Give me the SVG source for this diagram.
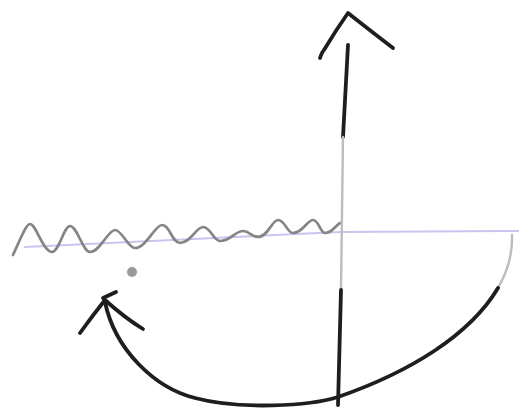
<svg xmlns="http://www.w3.org/2000/svg" width="519" height="413" viewBox="0 0 519 413">
<style>
.ink{fill:none;stroke:#1e1e1e;stroke-width:3.8;stroke-linecap:round;stroke-linejoin:round}
.pencil{fill:none;stroke:#858585;stroke-width:2.7;stroke-linecap:round;stroke-linejoin:round}
.faint{fill:none;stroke:#bdbdbd;stroke-width:2.4;stroke-linecap:round}
.axis{fill:none;stroke:#c6c6f0;stroke-width:2;stroke-linecap:round}
</style>
<rect width="519" height="413" fill="#ffffff"/>
<g id="baseline">
<path class="axis" d="M25,247 L340,232 L519,231"/>
</g>
<g id="wave">
<path class="pencil" d="M13,255 C20,240 26,224 30,224 C36,224 43,252 52,252 C59,252 64,226 70,226 C77,226 83,252 90,252 C100,252 108,230 115,230 C122,230 128,248 135,248 C146,248 155,225 162,225 C170,225 172,243 180,243 C191,243 196,227 203,227 C211,227 213,241 220,241 C231,241 235,231 243,231 C250,231 251,237 258,237 C268,237 272,220 278,220 C285,220 287,233 293,233 C303,233 307,220 313,220 C319,220 320,233 325,233 C332,233 335,226 340,223"/>
</g>
<g id="dot">
<circle cx="132" cy="272" r="5" fill="#9a9a9a"/>
</g>
<g id="connectors">
<g id="vertical-arrow">
<path class="ink" d="M348,45 L343,137"/>
<path class="faint" d="M343,137 L341,290"/>
<path class="ink" d="M341,290 L338,405"/>
<path class="ink" d="M320,58 Q322,52 324,50 Q336,30 348,13 Q372,32 393,48"/>
</g>
<g id="curved-arrow">
<path class="faint" d="M512,235 Q513,262 498,288"/>
<path class="ink" d="M498,288 C470,335 410,372 338,397 C310,406 240,410 195,398 C155,388 115,350 105,302"/>
<path class="ink" d="M80,333 Q93,315 105,300 Q125,318 143,329"/>
<path class="ink" d="M103,298 L116,292"/>
</g>
</g>
</svg>
